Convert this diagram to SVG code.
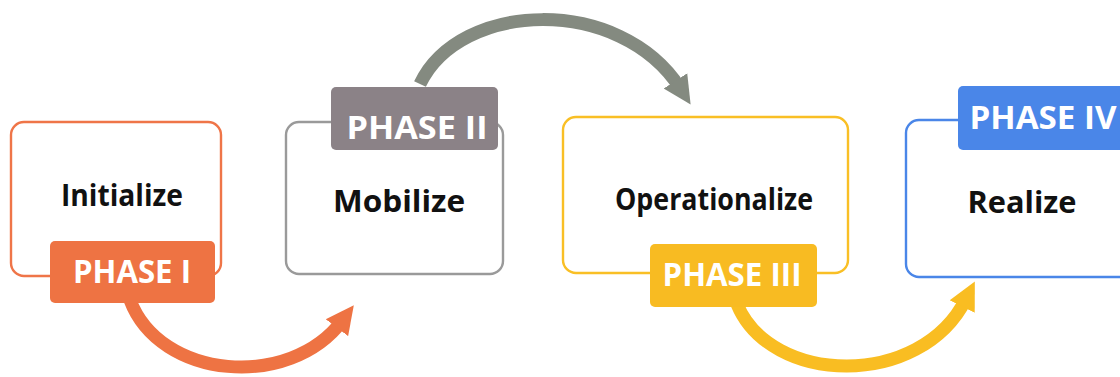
<svg xmlns="http://www.w3.org/2000/svg" width="1120" height="377" viewBox="0 0 1120 377">
<style>
.box{fill:#fff;stroke-width:2.4}
.lbl{font-family:"Open Sans","Liberation Sans",sans-serif;font-weight:700;font-size:30px;fill:#111;text-anchor:middle}
.ph{font-family:"Open Sans","Liberation Sans",sans-serif;font-weight:700;font-size:32px;fill:#fff;text-anchor:middle}
.arr{fill:none;stroke-width:13;stroke-linecap:butt}
</style>
<defs>
<marker id="mo" viewBox="0 0 10 10" refX="3" refY="5" markerUnits="userSpaceOnUse" markerWidth="28" markerHeight="30" orient="auto"><path d="M0,0 L10,5 L0,10 z" fill="#ee7343"/></marker>
<marker id="mg" viewBox="0 0 10 10" refX="3" refY="5" markerUnits="userSpaceOnUse" markerWidth="28" markerHeight="30" orient="auto"><path d="M0,0 L10,5 L0,10 z" fill="#848a80"/></marker>
<marker id="my" viewBox="0 0 10 10" refX="3" refY="5" markerUnits="userSpaceOnUse" markerWidth="28" markerHeight="30" orient="auto"><path d="M0,0 L10,5 L0,10 z" fill="#f9bd22"/></marker>
</defs>
<rect width="1120" height="377" fill="#fff"/>
<g id="connectors">
<path class="arr" d="M130,300 C160,380 290,390 342,321" stroke="#ee7343" marker-end="url(#mo)"/>
<path class="arr" d="M420,84 C460,0 620,-5 680,88" stroke="#848a80" marker-end="url(#mg)"/>
<path class="arr" d="M737,304 C770,385 920,390 966,299" stroke="#f9bd22" marker-end="url(#my)"/>
</g>
<g id="node1">
<rect class="box" x="11" y="122" width="210" height="154" rx="13" stroke="#ef7548"/>
<text class="lbl" x="122" y="206" textLength="122" lengthAdjust="spacingAndGlyphs">Initialize</text>
<rect x="50" y="241" width="165" height="62" rx="5" fill="#ee7343"/>
<text class="ph" x="132" y="283" textLength="118" lengthAdjust="spacingAndGlyphs">PHASE I</text>
</g>
<g id="node2">
<rect class="box" x="286" y="122" width="217" height="152" rx="13" stroke="#9a9a9a"/>
<text class="lbl" x="399" y="212" textLength="132" lengthAdjust="spacingAndGlyphs">Mobilize</text>
<rect x="331" y="87" width="167" height="63" rx="5" fill="#8b8287"/>
<text class="ph" x="417" y="139" textLength="141" lengthAdjust="spacingAndGlyphs">PHASE II</text>
</g>
<g id="node3">
<rect class="box" x="563" y="117" width="285" height="156" rx="13" stroke="#f9bf25"/>
<text class="lbl" x="714" y="210" textLength="198" lengthAdjust="spacingAndGlyphs">Operationalize</text>
<rect x="650" y="244" width="167" height="63" rx="5" fill="#f8bb22"/>
<text class="ph" x="732" y="286" textLength="139" lengthAdjust="spacingAndGlyphs">PHASE III</text>
</g>
<g id="node4">
<rect class="box" x="906" y="120" width="230" height="157" rx="13" stroke="#4a86e8"/>
<text class="lbl" x="1022" y="213" textLength="109" lengthAdjust="spacingAndGlyphs">Realize</text>
<rect x="958" y="86" width="180" height="64" rx="5" fill="#4a86e8"/>
<text class="ph" x="1043" y="129" textLength="147" lengthAdjust="spacingAndGlyphs">PHASE IV</text>
</g>
</svg>
